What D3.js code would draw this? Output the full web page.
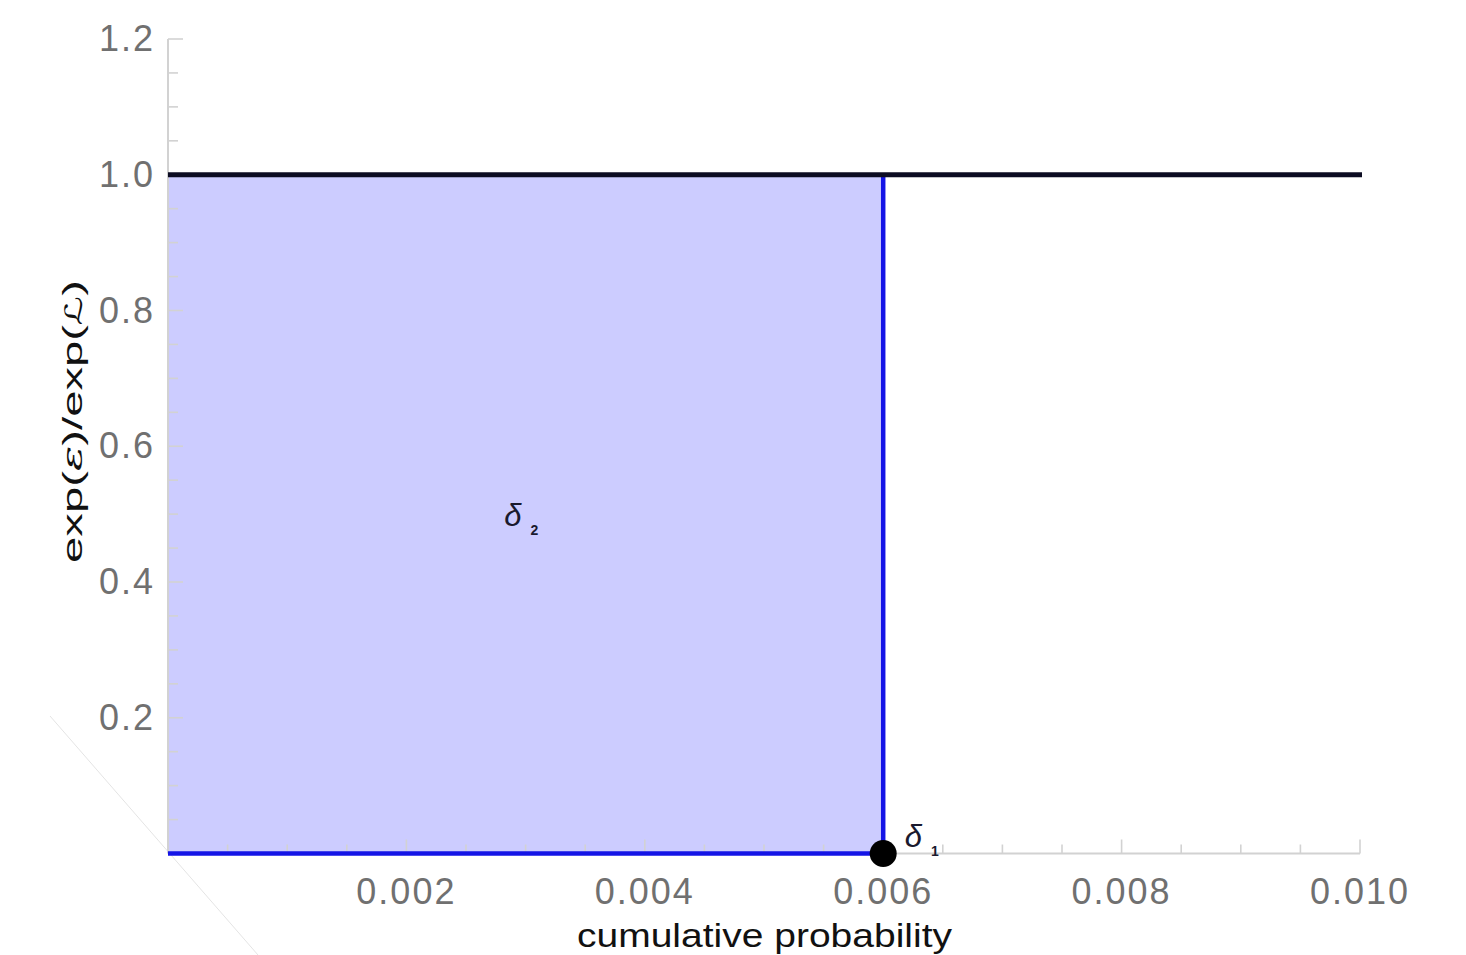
<!DOCTYPE html>
<html><head><meta charset="utf-8">
<script src="https://cdn.jsdelivr.net/npm/d3@7"></script>
<style>
body{margin:0;background:#fff;}
svg{display:block;}
text{font-family:"Liberation Sans",Arial,sans-serif;}
</style></head>
<body>
<svg id="chart" width="1466" height="955"></svg>
<script>
// ---- data ----
const xDomain = [0, 0.010];
const yDomain = [0, 1.2];
const xTickValues = [0.002, 0.004, 0.006, 0.008, 0.010];
const xTickLabels = ["0.002", "0.004", "0.006", "0.008", "0.010"];
const yTickValues = [0.2, 0.4, 0.6, 0.8, 1.0, 1.2];
const yTickLabels = ["0.2", "0.4", "0.6", "0.8", "1.0", "1.2"];
const regionX = [0, 0.006];        // shaded region (delta_2)
const regionY = [0, 1.0];
const levelLineX = [0, 0.010];     // exp(eps)/exp(L) = 1 line
const levelLineY = [1.0, 1.0];
const pointX = [0.006];            // delta_1 point
const pointY = [0];
const labels = [
  {main: "δ", sub: "2", x: 0.00282, y: 0.483},
  {main: "δ", sub: "1", x: 0.00618, y: 0.010}
];
const xTitle = "cumulative probability";
const yTitleParts = [["exp(", ""], ["ε", "it"], [")/exp(", ""], ["ℒ", "scr"], [")", ""]];

// ---- layout ----
const svg = d3.select("#chart");
const x = d3.scaleLinear().domain(xDomain).range([168, 1360]);
const y = d3.scaleLinear().domain(yDomain).range([853.5, 39]);

// faint scan artifact line
svg.append("line").attr("x1", 50).attr("y1", 716).attr("x2", 258).attr("y2", 955)
  .attr("stroke", "#e4e4e4").attr("stroke-width", 1);

// shaded region
svg.append("rect")
  .attr("x", x(regionX[0])).attr("y", y(regionY[1]))
  .attr("width", x(regionX[1]) - x(regionX[0]))
  .attr("height", y(regionY[0]) - y(regionY[1]))
  .attr("fill", "#ccccff");

// axes
const axisColor = "#d2d2d2";
const xMinor = d3.range(0.0005, 0.01001, 0.0005);
const yMinor = d3.range(0.05, 1.2001, 0.05);
const gx = svg.append("g").attr("transform", `translate(0,${y(0)})`);
gx.append("line").attr("x1", x(0)).attr("x2", x(xDomain[1])).attr("stroke", axisColor).attr("stroke-width", 2);
gx.selectAll("line.t").data(xMinor).join("line").attr("class", "t")
  .attr("x1", d => x(d)).attr("x2", d => x(d))
  .attr("y1", 0).attr("y2", d => Math.abs(d / 0.002 - Math.round(d / 0.002)) < 1e-6 ? -14 : -9)
  .attr("stroke", axisColor).attr("stroke-width", 1.6);
gx.selectAll("text").data(xTickValues).join("text")
  .attr("x", d => x(d)).attr("y", 50)
  .attr("text-anchor", "middle").attr("font-size", 36).attr("letter-spacing", 2)
  .attr("fill", "#707070")
  .text((d, i) => xTickLabels[i]);

const gy = svg.append("g").attr("transform", `translate(${x(0)},0)`);
gy.append("line").attr("y1", y(0)).attr("y2", y(yDomain[1])).attr("stroke", axisColor).attr("stroke-width", 2);
gy.selectAll("line.t").data(yMinor).join("line").attr("class", "t")
  .attr("y1", d => y(d)).attr("y2", d => y(d))
  .attr("x1", 0).attr("x2", d => Math.abs(d / 0.2 - Math.round(d / 0.2)) < 1e-6 ? 15 : 10)
  .attr("stroke", axisColor).attr("stroke-width", 1.6);
gy.selectAll("text").data(yTickValues).join("text")
  .attr("x", -13).attr("y", d => y(d) + 12)
  .attr("text-anchor", "end").attr("font-size", 36).attr("letter-spacing", 2)
  .attr("fill", "#707070")
  .text((d, i) => yTickLabels[i]);

// blue boundary lines
svg.append("path")
  .attr("d", d3.line()([[x(regionX[0]), y(0)], [x(regionX[1]), y(0)], [x(regionX[1]), y(regionY[1])]]))
  .attr("fill", "none").attr("stroke", "#1414e6").attr("stroke-width", 4.5);

// level line
svg.append("line")
  .attr("x1", x(levelLineX[0])).attr("x2", x(levelLineX[1]) + 2)
  .attr("y1", y(levelLineY[0])).attr("y2", y(levelLineY[1]))
  .attr("stroke", "#0c0c22").attr("stroke-width", 5);

// point
svg.selectAll("circle.p").data(pointX).join("circle").attr("class", "p")
  .attr("cx", d => x(d)).attr("cy", (d, i) => y(pointY[i])).attr("r", 13.5).attr("fill", "#000");

// labels
labels.forEach(l => {
  const t = svg.append("text").attr("x", x(l.x)).attr("y", y(l.y))
    .attr("font-family", "DejaVu Serif").attr("font-style", "italic")
    .attr("font-size", 31).attr("fill", "#1a1a2e");
  t.append("tspan").text(l.main);
  t.append("tspan").attr("dx", 9).attr("dy", 9).attr("font-size", 14).attr("font-weight", "bold")
    .attr("font-style", "normal").attr("font-family", "Liberation Sans").text(l.sub);
});

// axis titles
svg.append("text").attr("x", 577).attr("y", 947)
  .attr("textLength", 375).attr("lengthAdjust", "spacingAndGlyphs")
  .attr("font-size", 33).attr("fill", "#111").text(xTitle);
const yt = svg.append("text").attr("transform", "translate(82,563) rotate(-90)")
  .attr("textLength", 283).attr("lengthAdjust", "spacingAndGlyphs")
  .attr("font-size", 28).attr("fill", "#111");
yTitleParts.forEach(([s, st]) => {
  const ts = yt.append("tspan").text(s);
  if (st === "it") ts.attr("font-style", "italic").attr("font-family", "DejaVu Serif");
  if (st === "scr") ts.attr("font-family", "DejaVu Sans").attr("font-size", 24);
});
</script>
</body></html>
